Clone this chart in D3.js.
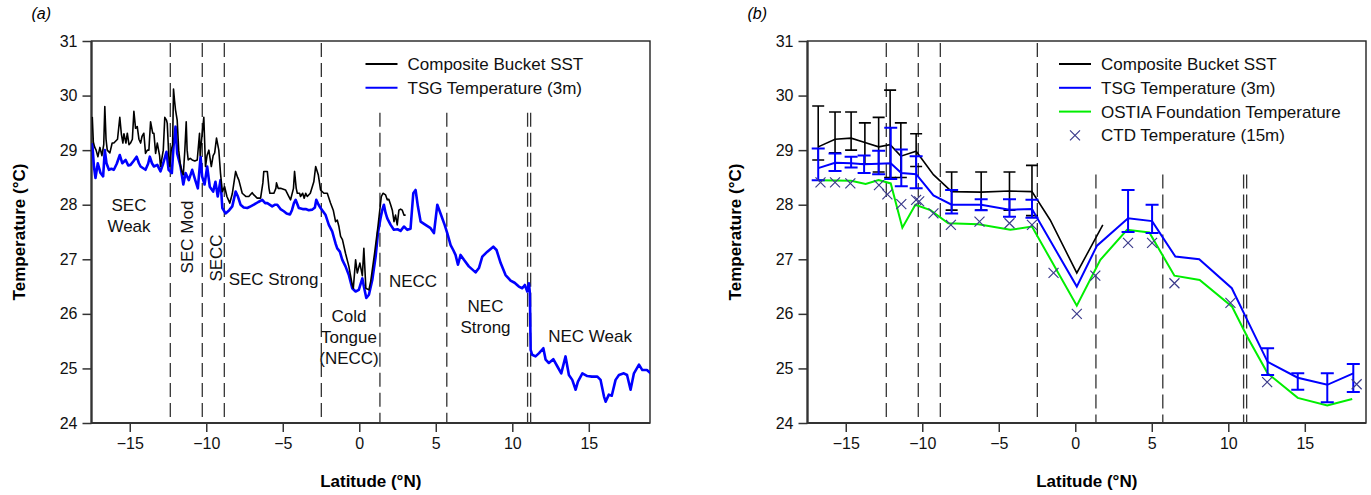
<!DOCTYPE html>
<html>
<head>
<meta charset="utf-8">
<script src="https://cdnjs.cloudflare.com/ajax/libs/d3/7.8.5/d3.min.js"></script>
<style>
    body { margin: 0; background: #fff; }
    svg { font-family: "Liberation Sans", Arial, Helvetica, sans-serif; }
</style>
</head>
<body>
<div id="chart-area"></div>
<script>
// ---- data (a): along-track series, [latitude, temperature]
const bucketA = [
    [-17.45, 29.61], [-17.38, 29.15], [-17.3, 29.06], [-17.2, 29.0], [-17.08, 28.88], [-16.95, 29.05],
    [-16.82, 28.9], [-16.7, 29.1], [-16.63, 29.8], [-16.55, 29.2], [-16.47, 29.0], [-16.3, 28.95],
    [-16.15, 29.13], [-16.04, 29.13], [-15.8, 29.2], [-15.65, 29.6], [-15.55, 29.3], [-15.45, 29.13],
    [-15.38, 29.3], [-15.25, 29.13], [-15.16, 29.31], [-15.05, 29.1], [-14.95, 29.13], [-14.83, 29.2],
    [-14.73, 29.71], [-14.62, 29.4], [-14.51, 29.43], [-14.4, 29.2], [-14.29, 29.13], [-14.2, 29.25],
    [-14.08, 29.31], [-13.97, 28.94], [-13.85, 29.0], [-13.75, 29.0], [-13.64, 29.52], [-13.5, 29.31],
    [-13.42, 29.31], [-13.31, 28.94], [-13.2, 29.13], [-13.05, 28.9], [-12.99, 28.7], [-12.81, 29.0],
    [-12.71, 29.6], [-12.6, 29.55], [-12.55, 29.49], [-12.45, 28.9], [-12.38, 28.7], [-12.29, 29.0],
    [-12.2, 29.1], [-12.14, 30.12], [-12.07, 29.9], [-12.01, 29.74], [-11.9, 29.55], [-11.8, 29.0],
    [-11.68, 28.7], [-11.58, 28.6], [-11.5, 28.55], [-11.4, 29.0], [-11.31, 29.52], [-11.25, 29.0],
    [-11.18, 28.82], [-11.05, 28.85], [-10.92, 28.82], [-10.75, 28.8], [-10.59, 28.82], [-10.44, 29.31],
    [-10.4, 28.9], [-10.3, 29.2], [-10.16, 29.6], [-10.05, 28.7], [-9.95, 28.9], [-9.83, 29.0],
    [-9.67, 28.7], [-9.55, 28.9], [-9.45, 28.95], [-9.33, 29.22], [-9.18, 29.0], [-9.07, 28.58],
    [-8.95, 28.24], [-8.8, 28.33], [-8.65, 28.15], [-8.46, 28.03], [-8.3, 28.2], [-8.08, 28.61],
    [-7.95, 28.5], [-7.87, 28.45], [-7.65, 28.21], [-7.4, 28.15], [-7.22, 28.15], [-7.0, 28.22],
    [-6.89, 28.18], [-6.67, 28.12], [-6.45, 28.12], [-6.3, 28.4], [-6.24, 28.61], [-6.01, 28.61],
    [-5.9, 28.3], [-5.84, 28.21], [-5.58, 28.21], [-5.45, 28.3], [-5.41, 28.4], [-5.3, 28.3],
    [-5.14, 28.3], [-4.82, 28.27], [-4.6, 28.15], [-4.49, 28.09], [-4.3, 28.3], [-4.23, 28.61],
    [-4.12, 28.3], [-4.05, 28.21], [-3.9, 28.21], [-3.84, 28.15], [-3.7, 28.21], [-3.6, 28.12],
    [-3.5, 28.21], [-3.4, 28.15], [-3.2, 28.21], [-2.97, 28.42], [-2.85, 28.7], [-2.68, 28.55],
    [-2.53, 28.27], [-2.31, 28.21], [-2.09, 28.21], [-1.88, 28.03], [-1.7, 27.9], [-1.55, 27.69],
    [-1.44, 27.72], [-1.33, 27.6], [-1.22, 27.42], [-1.1, 27.36], [-0.9, 27.11], [-0.68, 26.87],
    [-0.46, 26.53], [-0.39, 26.47], [-0.24, 26.99], [-0.13, 26.75], [0.04, 26.93], [0.2, 26.7],
    [0.3, 27.2], [0.43, 26.47], [0.63, 26.44], [0.75, 26.6], [1.0, 27.11], [1.22, 27.6],
    [1.44, 28.15], [1.55, 28.21], [1.72, 28.18], [1.83, 28.09], [1.93, 28.1], [2.05, 28.0],
    [2.16, 27.9], [2.27, 27.69], [2.37, 27.81], [2.48, 27.63], [2.59, 27.9], [2.7, 27.92],
    [2.81, 27.9], [2.92, 27.81], [3.03, 27.81]
]

const tsgA = [
    [-17.45, 29.13], [-17.34, 28.7], [-17.24, 28.49], [-17.09, 28.76], [-16.91, 28.58], [-16.74, 28.52],
    [-16.63, 29.0], [-16.52, 28.76], [-16.36, 28.64], [-16.2, 28.66], [-16.04, 28.64], [-15.85, 28.75],
    [-15.65, 28.91], [-15.49, 28.76], [-15.27, 28.82], [-15.1, 28.72], [-14.95, 28.73], [-14.75, 28.8],
    [-14.55, 28.88], [-14.4, 28.76], [-14.29, 28.7], [-13.97, 28.64], [-13.8, 28.75], [-13.69, 28.88],
    [-13.55, 28.76], [-13.42, 28.7], [-13.2, 28.73], [-12.99, 28.61], [-12.81, 28.76], [-12.6, 28.97],
    [-12.46, 28.64], [-12.25, 28.58], [-12.14, 29.06], [-12.01, 29.43], [-11.9, 28.94], [-11.68, 28.7],
    [-11.5, 28.37], [-11.35, 28.58], [-11.14, 28.45], [-10.92, 28.64], [-10.72, 28.45], [-10.55, 28.3],
    [-10.37, 28.88], [-10.27, 28.52], [-10.11, 28.37], [-9.94, 28.7], [-9.77, 28.33], [-9.55, 28.24],
    [-9.4, 28.42], [-9.25, 28.15], [-9.07, 28.45], [-8.95, 27.94], [-8.74, 27.84], [-8.5, 27.9],
    [-8.3, 27.97], [-8.08, 28.24], [-7.93, 28.15], [-7.76, 28.0], [-7.55, 27.95], [-7.32, 27.94],
    [-7.1, 27.97], [-6.89, 28.0], [-6.6, 28.05], [-6.34, 28.09], [-6.15, 28.03], [-6.01, 28.03],
    [-5.69, 27.97], [-5.5, 28.0], [-5.36, 28.0], [-5.15, 27.92], [-4.93, 27.88], [-4.75, 27.84],
    [-4.53, 27.82], [-4.4, 27.9], [-4.27, 28.03], [-4.16, 28.09], [-3.95, 27.94], [-3.7, 27.92],
    [-3.5, 27.92], [-3.3, 27.9], [-3.07, 27.91], [-2.9, 27.95], [-2.81, 28.09], [-2.66, 28.0],
    [-2.53, 27.94], [-2.2, 27.81], [-1.99, 27.63], [-1.77, 27.51], [-1.55, 27.29], [-1.44, 27.2],
    [-1.27, 27.14], [-1.11, 26.99], [-0.9, 26.87], [-0.68, 26.71], [-0.46, 26.47], [-0.24, 26.41],
    [-0.03, 26.44], [0.2, 26.65], [0.3, 26.5], [0.46, 26.29], [0.63, 26.35], [0.85, 26.62],
    [1.07, 27.05], [1.22, 27.48], [1.39, 27.75], [1.5, 27.9], [1.61, 28.0], [1.72, 27.85],
    [1.83, 27.75], [2.05, 27.63], [2.26, 27.54], [2.5, 27.55], [2.7, 27.52], [2.92, 27.6],
    [3.14, 27.54], [3.35, 27.56], [3.53, 28.21], [3.68, 28.27], [3.83, 27.97], [4.01, 27.69],
    [4.33, 27.63], [4.66, 27.57], [4.88, 27.48], [5.1, 28.0], [5.31, 27.84], [5.58, 27.63],
    [5.75, 27.48], [5.97, 27.26], [6.14, 27.17], [6.29, 27.08], [6.45, 26.9], [6.62, 27.08],
    [6.84, 26.99], [7.16, 26.87], [7.6, 26.76], [7.82, 26.84], [8.04, 27.05], [8.37, 27.14],
    [8.76, 27.23], [8.97, 27.17], [9.24, 26.93], [9.56, 26.71], [9.89, 26.61], [10.15, 26.57],
    [10.43, 26.5], [10.65, 26.47], [10.82, 26.53], [10.98, 26.41], [11.09, 26.56], [11.15, 26.38],
    [11.2, 25.34], [11.3, 25.25], [11.52, 25.22], [11.75, 25.28], [12.03, 25.37], [12.18, 25.16],
    [12.39, 25.1], [12.68, 25.17], [12.94, 25.04], [13.2, 24.91], [13.48, 25.22], [13.7, 24.88],
    [13.92, 24.79], [14.14, 24.61], [14.29, 24.76], [14.58, 24.91], [14.9, 24.86], [15.2, 24.85],
    [15.56, 24.85], [15.77, 24.79], [15.99, 24.49], [16.1, 24.39], [16.31, 24.52], [16.5, 24.5],
    [16.75, 24.79], [16.97, 24.88], [17.29, 24.91], [17.5, 24.88], [17.73, 24.61], [17.95, 24.91],
    [18.28, 25.07], [18.5, 24.97], [18.8, 24.97], [19.04, 24.91]
]

// ---- data (b): regional averages
const bucketB = [
    [-16.8, 29.06], [-15.7, 29.2], [-14.65, 29.22], [-13.75, 29.14], [-12.85, 29.06], [-12.1, 29.1],
    [-11.4, 28.89], [-10.4, 28.98], [-9.27, 28.55], [-8.08, 28.24], [-6.15, 28.23], [-4.3, 28.25],
    [-2.83, 28.24], [-1.64, 27.72], [0.1, 26.75], [1.8, 27.63]
]
// [latitude, low, high]
const bucketBErr = [
    [-16.8, 28.82, 29.81], [-15.7, 28.95, 29.7], [-14.65, 29.0, 29.7], [-13.75, 28.75, 29.5],
    [-12.85, 28.6, 29.6], [-12.1, 28.5, 30.1], [-11.4, 28.5, 29.5], [-10.4, 28.7, 29.3],
    [-8.08, 27.9, 28.6], [-6.15, 27.9, 28.6], [-4.3, 27.9, 28.6], [-2.83, 27.8, 28.72]
]
const tsgB = [
    [-16.8, 28.67], [-15.7, 28.77], [-14.65, 28.76], [-13.8, 28.74], [-12.85, 28.75], [-12.06, 28.76],
    [-11.37, 28.58], [-10.4, 28.56], [-9.27, 28.17], [-8.08, 28.0], [-6.15, 28.0], [-4.3, 27.91],
    [-2.83, 27.92], [0.1, 26.5], [1.42, 27.25], [3.45, 27.75], [5.02, 27.7], [6.54, 27.05],
    [8.1, 27.0], [10.23, 26.47], [11.13, 25.95], [12.57, 25.12], [14.54, 24.83], [16.47, 24.7],
    [18.17, 24.91]
]
const tsgBErr = [
    [-16.8, 28.45, 29.03], [-15.7, 28.62, 28.94], [-14.65, 28.68, 28.88], [-13.8, 28.58, 28.9],
    [-12.85, 28.56, 28.99], [-12.06, 28.47, 29.41], [-11.37, 28.34, 29.01], [-10.4, 28.3, 28.89],
    [-8.08, 27.84, 28.27], [-6.15, 27.9, 28.1], [-4.3, 27.78, 28.1], [-2.83, 27.76, 28.09],
    [3.45, 27.5, 28.27], [5.02, 27.48, 28.0], [12.57, 24.88, 25.37], [14.54, 24.61, 24.91],
    [16.47, 24.38, 24.91], [18.17, 24.57, 25.08]
]
const ostiaB = [
    [-16.8, 28.45], [-14.65, 28.44], [-13.7, 28.38], [-12.85, 28.45], [-12.06, 28.39], [-11.3, 27.58],
    [-10.45, 28.0], [-9.47, 27.9], [-8.3, 27.66], [-6.33, 27.64], [-4.25, 27.54], [-2.83, 27.6],
    [0.1, 26.15], [1.64, 26.99], [3.38, 27.54], [4.84, 27.49], [6.48, 26.7], [8.13, 26.62],
    [10.25, 26.13], [11.24, 25.58], [12.57, 24.91], [14.54, 24.46], [16.47, 24.32], [18.1, 24.44]
]
const ctdB = [
    [-16.65, 28.41], [-15.7, 28.41], [-14.7, 28.39], [-12.83, 28.36], [-12.28, 28.19], [-11.37, 28.01],
    [-10.4, 28.09], [-10.2, 28.06], [-9.27, 27.84], [-8.13, 27.63], [-6.26, 27.69], [-4.3, 27.66],
    [-2.83, 27.63], [-1.42, 26.75], [0.1, 26.0], [1.31, 26.7], [3.45, 27.3], [5.02, 27.3],
    [6.48, 26.56], [10.14, 26.2], [12.54, 24.75], [18.39, 24.71]
]

// current region boundaries (latitude) and the temperature where each dashed line starts
const boundaries = [-12.35, -10.26, -8.82, -2.48, 1.35, 5.72, 11.0, 11.2]
const boundaryTopA = [31, 31, 31, 31, 29.72, 29.72, 29.72, 29.72]
const boundaryTopB = [31, 31, 31, 31, 28.59, 28.59, 28.59, 28.59]

const latTicks = [-15, -10, -5, 0, 5, 10, 15]
const tempTicks = [24, 25, 26, 27, 28, 29, 30, 31]
const latDomain = [-17.5, 19]
const tempDomain = [24, 31]

// ---- layout
const width = 1371
const height = 495
const plotTop = 41
const plotBottom = 423

const svg = d3.select("#chart-area").append("svg")
    .attr("width", width)
    .attr("height", height)

function makePanel(left, right, name, id) {
    const x = d3.scaleLinear().domain(latDomain).range([left, right])
    const y = d3.scaleLinear().domain(tempDomain).range([plotBottom, plotTop])
    const g = svg.append("g")

    g.append("clipPath").attr("id", id)
        .append("rect")
        .attr("x", left).attr("y", plotTop)
        .attr("width", right - left).attr("height", plotBottom - plotTop)

    const xAxisCall = d3.axisBottom(x).tickValues(latTicks).tickSize(9).tickSizeOuter(0).tickPadding(6)
    g.append("g")
        .attr("transform", `translate(0, ${plotBottom})`)
        .call(xAxisCall)
        .call(a => a.select(".domain").remove())
        .call(a => a.selectAll("line").attr("stroke", "#333").attr("stroke-width", 1.5))
        .call(a => a.selectAll("text").attr("font-size", "16px").attr("fill", "#111")
            .attr("font-family", "Liberation Sans, Arial, sans-serif"))

    const yAxisCall = d3.axisLeft(y).tickValues(tempTicks).tickFormat(d3.format("d"))
        .tickSize(9).tickSizeOuter(0).tickPadding(5)
    g.append("g")
        .attr("transform", `translate(${left}, 0)`)
        .call(yAxisCall)
        .call(a => a.select(".domain").remove())
        .call(a => a.selectAll("line").attr("stroke", "#333").attr("stroke-width", 1.5))
        .call(a => a.selectAll("text").attr("font-size", "16px").attr("fill", "#111")
            .attr("font-family", "Liberation Sans, Arial, sans-serif"))

    // frame
    g.append("rect")
        .attr("x", left).attr("y", plotTop)
        .attr("width", right - left).attr("height", plotBottom - plotTop)
        .attr("fill", "none").attr("stroke", "#222").attr("stroke-width", 1.4)
    g.append("path")
        .attr("d", `M${left},${plotTop}V${plotBottom}H${right}`)
        .attr("fill", "none").attr("stroke", "#333").attr("stroke-width", 2.2)

    g.append("text")
        .attr("x", (left + right) / 2)
        .attr("y", 487)
        .attr("text-anchor", "middle")
        .attr("font-size", "17px")
        .attr("font-weight", "bold")
        .text("Latitude (°N)")

    g.append("text")
        .attr("transform", `translate(${left - 67}, ${(plotTop + plotBottom) / 2}) rotate(-90)`)
        .attr("text-anchor", "middle")
        .attr("font-size", "17px")
        .attr("font-weight", "bold")
        .text("Temperature (°C)")

    g.append("text")
        .attr("x", left - 60)
        .attr("y", 19)
        .attr("font-size", "16px")
        .attr("font-style", "italic")
        .text(name)

    const plot = g.append("g").attr("clip-path", `url(#${id})`)
    return { g, plot, x, y }
}

function drawBoundaries(p, tops) {
    p.plot.selectAll(".bound").data(boundaries)
        .enter().append("line")
        .attr("class", "bound")
        .attr("x1", d => p.x(d)).attr("x2", d => p.x(d))
        .attr("y1", (d, i) => p.y(tops[i]) + 2)
        .attr("y2", plotBottom)
        .attr("stroke", "#333")
        .attr("stroke-width", 1.3)
        .attr("stroke-dasharray", "14,6")
}

function drawLegend(p, items, x0) {
    items.forEach((it, i) => {
        const yy = 64 + i * 23.8
        if (it.cross) {
            p.g.append("path")
                .attr("d", `M${x0 + 11},${yy - 5}l10,10M${x0 + 11},${yy + 5}l10,-10`)
                .attr("stroke", it.color).attr("stroke-width", 1.2)
        } else {
            p.g.append("line")
                .attr("x1", x0).attr("x2", x0 + 32)
                .attr("y1", yy).attr("y2", yy)
                .attr("stroke", it.color).attr("stroke-width", 2)
        }
        p.g.append("text")
            .attr("x", x0 + 42)
            .attr("y", yy + 6)
            .attr("font-size", "17px")
            .attr("fill", "#111")
            .text(it.label)
    })
}

const line = (p) => d3.line().x(d => p.x(d[0])).y(d => p.y(d[1]))

// ---- panel (a)
const pa = makePanel(91.5, 650, "(a)", "clipA")
drawBoundaries(pa, boundaryTopA)

pa.plot.append("path")
    .attr("d", line(pa)(tsgA))
    .attr("fill", "none").attr("stroke", "#0000ff").attr("stroke-width", 2.6)
    .attr("stroke-linejoin", "round")
pa.plot.append("path")
    .attr("d", line(pa)(bucketA))
    .attr("fill", "none").attr("stroke", "#000").attr("stroke-width", 1.6)
    .attr("stroke-linejoin", "round")

// region names, placed by hand
const regionText = [
    { lines: ["SEC", "Weak"], x: 129, y: 211 },
    { lines: ["SEC Mod"], x: 193, y: 237, rotate: true },
    { lines: ["SECC"], x: 221.5, y: 258, rotate: true },
    { lines: ["SEC Strong"], x: 273.5, y: 284.5 },
    { lines: ["Cold", "Tongue", "(NECC)"], x: 349, y: 321.5 },
    { lines: ["NECC"], x: 413, y: 286.5 },
    { lines: ["NEC", "Strong"], x: 485.5, y: 312 },
    { lines: ["NEC Weak"], x: 590, y: 342 }
]
regionText.forEach(r => {
    const t = pa.g.append("text")
        .attr("text-anchor", "middle")
        .attr("font-size", "17px")
        .attr("fill", "#111")
        .attr("transform", r.rotate ? `translate(${r.x}, ${r.y}) rotate(-90)` : `translate(${r.x}, ${r.y})`)
    r.lines.forEach((s, i) => {
        t.append("tspan").attr("x", 0).attr("y", i * 21).text(s)
    })
})

drawLegend(pa, [
    { label: "Composite Bucket SST", color: "#000" },
    { label: "TSG Temperature (3m)", color: "#0000ff" }
], 365.5)

// ---- panel (b)
const pb = makePanel(807.5, 1366, "(b)", "clipB")
drawBoundaries(pb, boundaryTopB)

function errorBars(p, data, color, w, sw) {
    const gg = p.plot.append("g").attr("stroke", color).attr("stroke-width", sw)
    gg.selectAll("path").data(data).enter().append("path")
        .attr("fill", "none")
        .attr("d", d => {
            const cx = p.x(d[0]), lo = p.y(d[1]), hi = p.y(d[2])
            return `M${cx},${lo}V${hi}M${cx - w},${hi}H${cx + w}M${cx - w},${lo}H${cx + w}`
        })
}

pb.plot.append("path")
    .attr("d", line(pb)(ostiaB))
    .attr("fill", "none").attr("stroke", "#00ee00").attr("stroke-width", 2)
errorBars(pb, bucketBErr, "#000", 6, 1.6)
pb.plot.append("path")
    .attr("d", line(pb)(bucketB))
    .attr("fill", "none").attr("stroke", "#000").attr("stroke-width", 1.6)
errorBars(pb, tsgBErr, "#0000ff", 6.5, 2)
pb.plot.append("path")
    .attr("d", line(pb)(tsgB))
    .attr("fill", "none").attr("stroke", "#0000ff").attr("stroke-width", 2)

pb.plot.selectAll(".ctd").data(ctdB)
    .enter().append("path")
    .attr("class", "ctd")
    .attr("d", d => {
        const cx = pb.x(d[0]), cy = pb.y(d[1])
        return `M${cx - 5},${cy - 5}l10,10M${cx - 5},${cy + 5}l10,-10`
    })
    .attr("stroke", "#3c3c8c").attr("stroke-width", 1.2)

drawLegend(pb, [
    { label: "Composite Bucket SST", color: "#000" },
    { label: "TSG Temperature (3m)", color: "#0000ff" },
    { label: "OSTIA Foundation Temperature", color: "#00ee00" },
    { label: "CTD Temperature (15m)", color: "#3c3c8c", cross: true }
], 1059)
</script>
</body>
</html>
